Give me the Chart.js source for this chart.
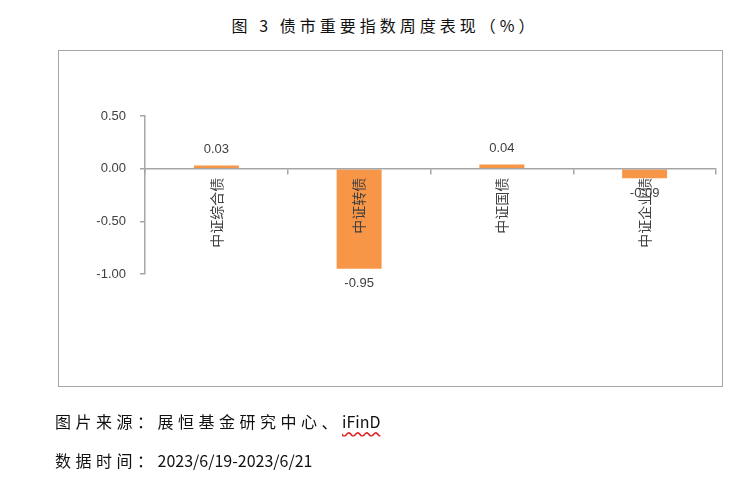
<!DOCTYPE html>
<html><head><meta charset="utf-8">
<script src="https://cdn.jsdelivr.net/npm/chart.js@4/dist/chart.umd.min.js"></script>
<style>
html,body{margin:0;padding:0;background:#fff;}
body{width:756px;height:478px;position:relative;overflow:hidden;font-family:"Noto Sans CJK SC",sans-serif;color:#111;}
#title{position:absolute;left:0;top:13px;width:770px;text-align:center;font-size:16px;letter-spacing:4px;line-height:24px;}
#box{position:absolute;left:58px;top:50px;width:663px;height:335px;border:1.5px solid #a6a6a6;}
#cv{position:absolute;left:0;top:0;}
.foot{position:absolute;left:55px;font-size:16px;line-height:22px;}
.cj{letter-spacing:4.5px;}
.wv{text-decoration:underline wavy #e02020;text-underline-offset:3px;}
</style></head>
<body>
<div id="title">图 3 债市重要指数周度表现（%）</div>
<div id="box"></div>
<canvas id="cv" width="756" height="478"></canvas>
<div class="foot" style="top:410px"><span class="cj">图片来源：展恒基金研究中心、</span><span class="wv">iFinD</span></div>
<div class="foot" style="top:449px"><span class="cj">数据时间：</span>2023/6/19-2023/6/21</div>
<script>
const categories = ["中证综合债", "中证转债", "中证国债", "中证企业债"];
const values = [0.03, -0.95, 0.04, -0.09];
const yTicks = [0.5, 0, -0.5, -1.0];

const labelPlugin = {
  id: 'vals',
  afterDraw(chart) {
    const ctx = chart.ctx;
    const meta = chart.getDatasetMeta(0);
    ctx.save();
    ctx.font = '13px "Liberation Sans", Arial, sans-serif';
    ctx.fillStyle = '#404040';
    ctx.textAlign = 'center';
    ctx.textBaseline = 'middle';
    meta.data.forEach((bar, i) => {
      const v = values[i];
      const y = v >= 0 ? bar.y - 16 : bar.y + 15;
      ctx.fillText(v.toFixed(2), bar.x, y);
    });
    ctx.restore();
  }
};

new Chart(document.getElementById('cv'), {
  type: 'bar',
  data: {
    labels: categories,
    datasets: [{
      data: values,
      backgroundColor: '#F79646',
      borderWidth: 0,
      categoryPercentage: 1,
      barPercentage: 0.315
    }]
  },
  options: {
    responsive: false,
    animation: false,
    devicePixelRatio: 1,
    layout: { padding: { left: 60, top: 116, right: 40, bottom: 204 } },
    plugins: { legend: { display: false }, tooltip: { enabled: false } },
    scales: {
      x: {
        position: { y: 0 },
        border: { display: true, color: '#a6a6a6', width: 1.5, z: 1 },
        grid: { display: true, drawOnChartArea: false, drawTicks: true, tickLength: 5, color: '#a6a6a6', lineWidth: 1.5, offset: true, z: 1 },
        ticks: {
          z: 2,
          minRotation: 90, maxRotation: 90, padding: 4, autoSkip: false,
          color: '#404040',
          font: { family: '"Noto Sans CJK SC", sans-serif', size: 14 }
        }
      },
      y: {
        min: -1, max: 0.5,
        afterFit: s => { s.width = 85; },
        afterBuildTicks: s => { s.ticks = yTicks.map(v => ({ value: v })); },
        border: { display: true, color: '#a6a6a6', width: 1.5 },
        grid: { display: true, drawOnChartArea: false, drawTicks: true, tickLength: 5, color: '#a6a6a6', lineWidth: 1.5 },
        ticks: {
          padding: 14,
          color: '#404040',
          font: { family: '"Liberation Sans", Arial, sans-serif', size: 13 },
          callback: v => Number(v).toFixed(2)
        }
      }
    }
  },
  plugins: [labelPlugin]
});
</script>
</body></html>
